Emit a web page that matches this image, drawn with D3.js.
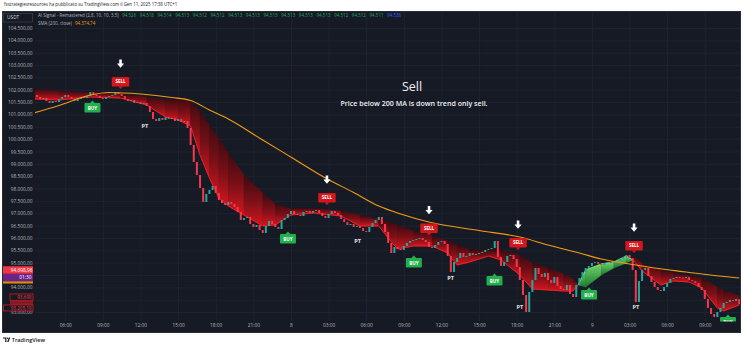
<!DOCTYPE html>
<html>
<head>
<meta charset="utf-8">
<script src="https://cdn.jsdelivr.net/npm/d3@7"></script>
<style>
  html, body { margin: 0; padding: 0; background: #ffffff; }
  svg { display: block; }
  text { font-family: "Open Sans", "Noto Sans", "DejaVu Sans", sans-serif; }
</style>
</head>
<body>
<svg id="chart" width="743" height="347"></svg>
<script>
// ---- data ---------------------------------------------------------------
// time is expressed in hours from 7 Jan 2025 00:00
const BASE = new Date(2025, 0, 7, 0, 0);

// 15-minute candles, closes (USDT)
const candleStartHour = 3.5;
const candleStepHours = 0.25;
const firstOpen = 101750;
const closes = [
  101787,101706,101625,101665,101544,101463,101544,101504,101625,101706,
  101787,101706,101625,101544,101625,101706,101665,101746,101908,101787,
  101746,101665,101625,101706,101746,101787,101908,101827,101746,101625,
  101544,101585,101463,101504,101423,101463,101342,101099,100815,100734,
  100856,100775,100896,100815,100856,100734,100815,100694,100734,100451,
  99762,99074,98548,98021,97454,97778,97940,98102,97819,97535,
  97414,97333,97454,97373,97252,97049,96725,96806,96847,96563,
  96442,96523,96320,96199,96482,96685,96563,96442,96361,96725,
  96806,96968,97090,96968,96928,96887,97049,97090,97009,97090,
  97130,97009,96887,96806,96968,97090,97009,96928,96766,96644,
  96523,96563,96442,96482,96401,96280,96239,96442,96604,96725,
  96847,96563,96239,95794,95389,95632,95551,95511,95673,95794,
  95875,95915,95956,95996,95915,95835,95632,95592,95713,95835,
  95875,95754,95268,94620,95025,95187,95389,95227,95268,95389,
  95308,95349,95389,95430,95511,95551,95592,95875,95227,94863,
  95025,95268,95308,95146,94822,94296,93688,93000,93810,94296,
  94782,94539,94417,94579,94296,94174,94417,94053,93931,93891,
  94093,93729,93607,94093,94377,94620,94782,94863,94984,95025,
  94944,94903,94984,95025,94984,95025,95065,95146,95227,95308,
  95187,94701,93405,94255,94701,94782,94458,94215,94012,93891,
  93850,94012,94174,94336,94377,94417,94400,94377,94417,94296,
  94255,94174,94012,93891,93526,93162,92919,92798,93000,93162,
  93364,93405,93486,93445,93526,93324
];

// AI Signal ribbon: fast and slow lines
const ribbonHours = [3.5,5.5,8,10.4,12.5,14,15,16,16.75,17.5,18.25,19,20.25,21.75,22.75,24,25.75,28,29.5,31,
  31.75,32.5,33.75,35.25,36.5,37.25,38.25,39.75,40.75,42.25,43.25,44.5,45.75,46.5,46.9,47.5,48.75,49.75,50.75,51.25,
  51.5,52,53.5,54.5,55.75,56.75,58,58.5,59.75];
const ribbonSlow = [102030,101949,101868,101827,101706,101585,101625,101504,101099,100572,
  100005,99438,98548,97819,97373,97171,97211,97090,96928,96725,
  96644,96523,96280,96077,95875,95713,95511,95511,95511,95308,
  94984,94782,94539,94336,94093,94012,94498,94782,94984,95106,
  95227,94944,94701,94579,94458,94377,94012,93891,93648];
const ribbonFast = [101625,101585,101706,101665,101382,100896,100775,100532,99358,98427,
  97616,97292,96928,96482,96523,96928,97009,96887,96482,96482,
  95996,95551,95673,95673,95389,94903,95025,95268,95106,94498,
  93931,93891,93850,93850,94093,94701,94944,95025,95268,95106,
  94984,94660,94093,94255,94215,93972,93162,93040,93284];

// SMA (200, close)
const smaHours = [3.5,5.5,8,9.5,12,14.5,16,17.5,19,21.75,24.25,26.75,29,31,32.75,35,39,42.25,44.5,47,48.75,51,53,55.5,57.75,59.75];
const smaValues = [101058,101362,101787,101888,101827,101686,101564,101180,100815,99965,99196,98426,97839,97292,96968,96644,96300,96037,95713,95389,95146,94944,94782,94620,94478,94375];

// signals
const buyHours = [8.17, 23.76, 33.8, 40.23, 47.77, 58.85];
const buyPrices = [101564, 96260, 95288, 94559, 93992, 92899];
const sellHours = [10.41, 26.87, 35.01, 42.11, 51.36];
const sellPrices = [102030, 97333, 96097, 95511, 95389];
const ptHours = [12.36, 29.32, 36.74, 42.26, 51.5];
const ptPrices = [100512, 95875, 94365, 93190, 93202];

// axes
const priceTicks = [104500,104000,103500,103000,102500,102000,101500,101000,100500,100000,
  99500,99000,98500,98000,97500,97000,96500,96000,95500,95000,94500,94000,93500,93000];
const timeTickHours = [6,9,12,15,18,21,24,27,30,33,36,39,42,45,48,51,54,57];
const timeTickLabels = ["06:00","09:00","12:00","15:00","18:00","21:00","8","03:00","06:00","09:00",
  "12:00","15:00","18:00","21:00","9","03:00","06:00","09:00"];

// legend and scale labels
const legendValues = [94526,94518,94514,94513,94512,94512,94513,94513,94513,94513,94513,94513,94512,94512,94511];
const legendLast = 94538;
const smaLast = 94374.74;
const lastPrice = 94698.96;
const countdown = "01:30";
const aiLevelA = 93698;
const aiLevelB = 93205.19;

// ---- drawing -----------------------------------------------------------
const svg = d3.select("#chart");
const locale = d3.formatLocale({decimal: ",", thousands: ".", grouping: [3], currency: ["", ""]});
const fmtPrice = locale.format(",.2f");
const fmtInt = locale.format(",.0f");

const hourToDate = h => new Date(BASE.getTime() + h * 3600e3);
const x = d3.scaleTime().domain([hourToDate(0), hourToDate(60)]).range([-10, 742.4]);
const y = d3.scaleLinear().domain([93000, 104500]).range([312, 28]);
const X = h => x(hourToDate(h));

const plot = {left: 35, right: 740, top: 12, bottom: 321.5};
const axisColor = "#b2b5be";

const defs = svg.append("defs");
defs.append("clipPath").attr("id", "plotClip").append("rect")
  .attr("x", plot.left).attr("y", plot.top)
  .attr("width", plot.right - plot.left).attr("height", plot.bottom - plot.top);
defs.append("clipPath").attr("id", "scaleStubClip").append("rect")
  .attr("x", 0).attr("y", 0).attr("width", 10).attr("height", 347);
const bearGrad = defs.append("linearGradient").attr("id", "bearGrad")
  .attr("x1", 0).attr("y1", 0).attr("x2", 0).attr("y2", 1);
bearGrad.append("stop").attr("offset", "0%").attr("stop-color", "#3e0a10");
bearGrad.append("stop").attr("offset", "50%").attr("stop-color", "#7a1017");
bearGrad.append("stop").attr("offset", "100%").attr("stop-color", "#d4161f");
const bullGrad = defs.append("linearGradient").attr("id", "bullGrad")
  .attr("x1", 0).attr("y1", 0).attr("x2", 0).attr("y2", 1);
bullGrad.append("stop").attr("offset", "0%").attr("stop-color", "#6fd56a");
bullGrad.append("stop").attr("offset", "100%").attr("stop-color", "#1e7a31");

// header strip text
svg.append("text").attr("x", 4).attr("y", 6.4)
  .attr("font-size", 4.4).attr("fill", "#131722")
  .text("fxstrategiesresources ha pubblicato su TradingView.com il Gen 11, 2025 17:38 UTC+1");

// chart panel
svg.append("rect").attr("x", 2.5).attr("y", 11.5).attr("width", 738).attr("height", 321)
  .attr("fill", "#161a25").attr("stroke", "#2a2e39").attr("stroke-width", 1);

// grid
const gridY = svg.append("g").attr("transform", `translate(${plot.left},0)`)
  .call(d3.axisRight(y).tickValues(priceTicks).tickSize(plot.right - plot.left).tickFormat(""));
gridY.select(".domain").remove();
gridY.selectAll("line").attr("stroke", "#1f2330");

const gridX = svg.append("g").attr("transform", `translate(0,${plot.top})`)
  .call(d3.axisBottom(x).tickValues(timeTickHours.map(hourToDate))
    .tickSize(plot.bottom - plot.top).tickFormat(""));
gridX.select(".domain").remove();
gridX.selectAll("line").attr("stroke", "#1f2330");

// ribbon
const ribbonG = svg.append("g").attr("clip-path", "url(#plotClip)");
for (let i = 0; i < ribbonHours.length - 1; i++) {
  const x0 = X(ribbonHours[i]), x1 = X(ribbonHours[i + 1]);
  const bull = ribbonFast[i] + ribbonFast[i + 1] > ribbonSlow[i] + ribbonSlow[i + 1];
  const pts = [[x0, y(ribbonFast[i])], [x1, y(ribbonFast[i + 1])],
               [x1, y(ribbonSlow[i + 1])], [x0, y(ribbonSlow[i])]];
  const fill = bull ? "url(#bullGrad)" : "url(#bearGrad)";
  ribbonG.append("path").attr("d", "M" + pts.join("L") + "Z")
    .attr("fill", fill).attr("stroke", fill).attr("stroke-width", 0.5);
  ribbonG.append("path").attr("d", `M${pts[0]}L${pts[1]}`)
    .attr("fill", "none").attr("stroke", bull ? "#86e47a" : "#f2212c").attr("stroke-width", 0.9);
}

// candles
const candleG = svg.append("g").attr("clip-path", "url(#plotClip)");
closes.forEach((c, i) => {
  const o = i === 0 ? firstOpen : closes[i - 1];
  const cx = X(candleStartHour + i * candleStepHours);
  const top = y(Math.max(o, c)), bot = y(Math.min(o, c));
  candleG.append("rect")
    .attr("x", cx - 1).attr("y", top)
    .attr("width", 2).attr("height", Math.max(1, bot - top))
    .attr("fill", c >= o ? "#26a69a" : "#f7374a");
});

// SMA 200
svg.append("path").attr("clip-path", "url(#plotClip)")
  .datum(smaHours.map((h, i) => [h, smaValues[i]]))
  .attr("fill", "none").attr("stroke", "#f39c12").attr("stroke-width", 1.1)
  .attr("d", d3.line().x(d => X(d[0])).y(d => y(d[1])).curve(d3.curveMonotoneX));

// signals
const sigG = svg.append("g").attr("clip-path", "url(#plotClip)");
sellHours.forEach((h, i) => {
  const cx = X(h), tip = y(sellPrices[i]);
  sigG.append("rect").attr("x", cx - 8.75).attr("y", tip - 12).attr("width", 17.5).attr("height", 9.6)
    .attr("rx", 1).attr("fill", "#d4161d");
  sigG.append("path").attr("d", `M${cx - 2.3},${tip - 2.6}L${cx + 2.3},${tip - 2.6}L${cx},${tip}Z`).attr("fill", "#d4161d");
  sigG.append("text").attr("x", cx).attr("y", tip - 5.6).attr("text-anchor", "middle")
    .attr("font-size", 4.6).attr("font-weight", 700).attr("fill", "#ffffff").text("SELL");
  // white arrow above the label
  const top = tip - 29.5;
  sigG.append("path")
    .attr("d", `M${cx - 1.3},${top}L${cx + 1.3},${top}L${cx + 1.3},${top + 4}L${cx + 3.6},${top + 4}L${cx},${top + 8.2}L${cx - 3.6},${top + 4}L${cx - 1.3},${top + 4}Z`)
    .attr("fill", "#ffffff");
});
buyHours.forEach((h, i) => {
  const cx = X(h), tip = y(buyPrices[i]);
  sigG.append("rect").attr("x", cx - 8).attr("y", tip + 2.5).attr("width", 16).attr("height", 9.6)
    .attr("rx", 1).attr("fill", "#22b04c");
  sigG.append("path").attr("d", `M${cx - 2.3},${tip + 2.6}L${cx + 2.3},${tip + 2.6}L${cx},${tip}Z`).attr("fill", "#22b04c");
  sigG.append("text").attr("x", cx).attr("y", tip + 9.1).attr("text-anchor", "middle")
    .attr("font-size", 4.6).attr("font-weight", 700).attr("fill", "#ffffff").text("BUY");
});
ptHours.forEach((h, i) => {
  sigG.append("text").attr("x", X(h)).attr("y", y(ptPrices[i]) + 2)
    .attr("text-anchor", "middle").attr("font-size", 5.6).attr("font-weight", 700)
    .attr("fill", "#e3e3e3").text("PT");
});

// price scale labels; the one under the last-price badge is covered
const lpY = y(lastPrice);
const smaY = y(smaLast);
const aY = y(aiLevelA);
const bY = y(aiLevelB);
const coveredTick = v => Math.abs(y(v) - (lpY + 4)) < 6;
const stubTick = v => Math.abs(y(v) - (aY + 4)) < 4;
const yAxis = svg.append("g").attr("transform", "translate(32.5,0)")
  .call(d3.axisLeft(y).tickValues(priceTicks.filter(v => !coveredTick(v)))
    .tickSize(0).tickPadding(0).tickFormat(fmtPrice));
yAxis.select(".domain").remove();
yAxis.selectAll("text").attr("font-size", 4.8).attr("fill", axisColor)
  .attr("font-family", "'Open Sans', 'Noto Sans', sans-serif");
yAxis.selectAll(".tick").filter(v => stubTick(v)).attr("clip-path", "url(#scaleStubClip)");

// time scale labels
const xAxis = svg.append("g").attr("transform", "translate(0,324)")
  .call(d3.axisBottom(x).tickValues(timeTickHours.map(hourToDate)).tickSize(0).tickPadding(0)
    .tickFormat((d, i) => timeTickLabels[i]));
xAxis.select(".domain").remove();
xAxis.selectAll("text").attr("font-size", 4.8).attr("fill", axisColor)
  .attr("font-family", "'Open Sans', 'Noto Sans', sans-serif");

// price scale badges
svg.append("rect").attr("x", 3).attr("y", smaY - 2.5).attr("width", 30).attr("height", 8).attr("fill", "#e08a0c");
svg.append("rect").attr("x", 3).attr("y", lpY - 3.8).attr("width", 30).attr("height", 7.6).attr("fill", "#f23645");
svg.append("text").attr("x", 32.5).attr("y", lpY + 1.7).attr("text-anchor", "end")
  .attr("font-size", 4.8).attr("fill", "#ffffff").text(fmtPrice(lastPrice));
svg.append("rect").attr("x", 3).attr("y", lpY + 3.8).attr("width", 30).attr("height", 7.6).attr("fill", "#6a2487");
svg.append("text").attr("x", 31.5).attr("y", lpY + 9.3).attr("text-anchor", "end")
  .attr("font-size", 4.8).attr("fill", "#ffffff").text(countdown);

svg.append("rect").attr("x", 10).attr("y", aY - 0.8).attr("width", 23).attr("height", 6.4)
  .attr("fill", "#161a25").attr("stroke", "#d11b24").attr("stroke-width", 0.8);
svg.append("text").attr("x", 31.5).attr("y", aY + 4).attr("text-anchor", "end")
  .attr("font-size", 4.6).attr("fill", "#f23645").text(fmtInt(aiLevelA));
svg.append("rect").attr("x", 10).attr("y", aY + 6.6).attr("width", 23).attr("height", 1.2).attr("fill", "#d11b24");
svg.append("rect").attr("x", 10).attr("y", aY + 8.6).attr("width", 23).attr("height", 1.2).attr("fill", "#d11b24");
svg.append("rect").attr("x", 3.5).attr("y", bY - 2).attr("width", 29.5).attr("height", 6)
  .attr("fill", "#161a25").attr("stroke", "#d11b24").attr("stroke-width", 0.8);
svg.append("text").attr("x", 31.5).attr("y", bY + 2.6).attr("text-anchor", "end")
  .attr("font-size", 4.6).attr("fill", "#f23645").text(fmtPrice(aiLevelB));

// symbol currency box
svg.append("rect").attr("x", 3.5).attr("y", 13.5).attr("width", 29).attr("height", 8.5)
  .attr("fill", "#161a25").attr("stroke", "#434651").attr("stroke-width", 0.6);
svg.append("text").attr("x", 7).attr("y", 19.3).attr("font-size", 4.8).attr("fill", "#d1d4dc").text("USDT");

// legend
const leg1 = svg.append("text").attr("x", 38).attr("y", 17.4).attr("font-size", 4.5);
leg1.append("tspan").attr("fill", "#b2b5be").text("AI Signal - Remastered (2,8, 10, 10, 3,5)");
legendValues.forEach(v => leg1.append("tspan").attr("dx", 3.6).attr("fill", "#22ab5a").text(fmtInt(v)));
leg1.append("tspan").attr("dx", 3.6).attr("fill", "#2962ff").text(fmtInt(legendLast));
const leg2 = svg.append("text").attr("x", 38).attr("y", 25).attr("font-size", 4.5);
leg2.append("tspan").attr("fill", "#b2b5be").text("SMA (200, close)");
leg2.append("tspan").attr("dx", 3).attr("fill", "#f39c12").text(fmtPrice(smaLast));

// headline note
svg.append("text").attr("x", 412).attr("y", 90.6).attr("text-anchor", "middle")
  .attr("font-size", 12.5).attr("fill", "#eef0f3").text("Sell");
svg.append("text").attr("x", 414).attr("y", 106).attr("text-anchor", "middle")
  .attr("font-size", 7.1).attr("font-weight", 600).attr("fill", "#eef0f3")
  .text("Price below 200 MA is down trend only sell.");

// footer logo
svg.append("path").attr("d", "M3,337.4h3.4v4.6h-1.2v-3.4h-2.2Z").attr("fill", "#131722");
svg.append("circle").attr("cx", 7.6).attr("cy", 338.2).attr("r", 0.8).attr("fill", "#131722");
svg.append("path").attr("d", "M8.9,337.4h1.4l-1.8,4.6h-1.4Z").attr("fill", "#131722");
svg.append("text").attr("x", 11.8).attr("y", 341.9).attr("font-size", 5.6).attr("font-weight", 600)
  .attr("fill", "#131722").text("TradingView");
</script>
</body>
</html>
